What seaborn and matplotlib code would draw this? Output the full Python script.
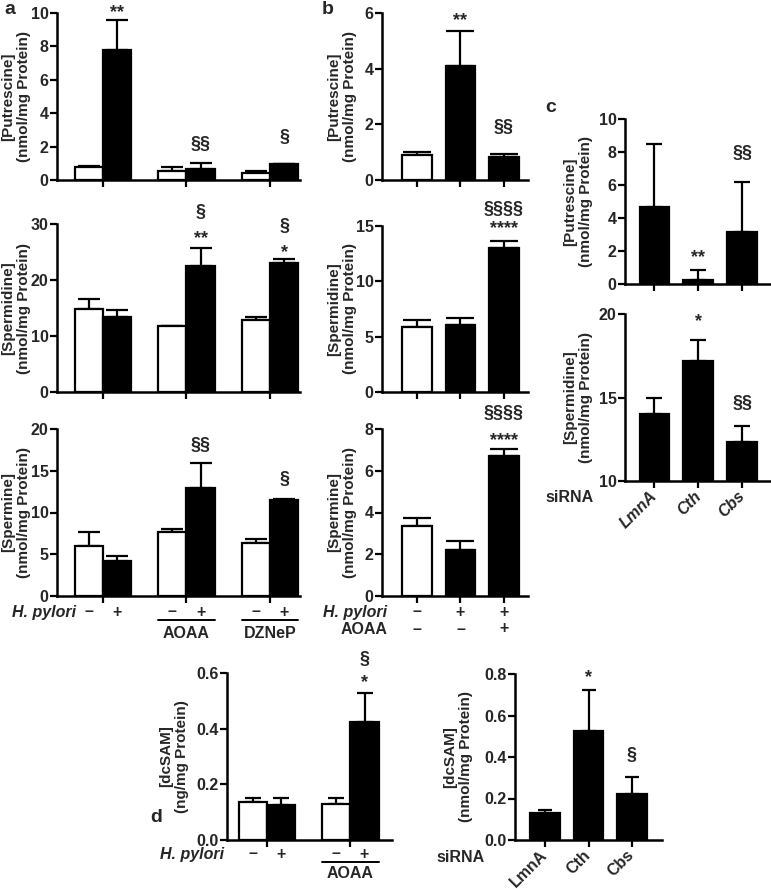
import numpy as np
import pandas as pd
import seaborn as sns
import matplotlib.pyplot as plt
import matplotlib.transforms as mtransforms

# --- dados ---
A_GROUPS = ["none", "AOAA", "DZNeP"]
A_PUT_NEG = [0.78, 0.55, 0.43]
A_PUT_NEG_ERR = [0.04, 0.23, 0.10]
A_PUT_POS = [7.8, 0.65, 0.93]
A_PUT_POS_ERR = [1.8, 0.37, 0.02]
A_SPD_NEG = [14.9, 11.7, 12.8]
A_SPD_NEG_ERR = [1.7, 0.1, 0.6]
A_SPD_POS = [13.4, 22.5, 23.0]
A_SPD_POS_ERR = [1.2, 3.3, 0.7]
A_SPM_NEG = [5.95, 7.7, 6.3]
A_SPM_NEG_ERR = [1.75, 0.3, 0.5]
A_SPM_POS = [4.2, 12.9, 11.5]
A_SPM_POS_ERR = [0.6, 3.0, 0.1]

B_CATS = ["ctrl", "hp", "hp_aoaa"]
B_COLORS = ["white", "black", "black"]
B_PUT = [0.9, 4.1, 0.84]
B_PUT_ERR = [0.12, 1.27, 0.1]
B_SPD = [5.9, 6.05, 13.0]
B_SPD_ERR = [0.6, 0.6, 0.6]
B_SPM = [3.35, 2.2, 6.7]
B_SPM_ERR = [0.37, 0.42, 0.32]
B_HP_ROW = ["–", "+", "+"]
B_AOAA_ROW = ["–", "–", "+"]

SI_CATS = ["LmnA", "Cth", "Cbs"]
C_PUT = [4.65, 0.25, 3.13]
C_PUT_ERR = [3.85, 0.6, 3.07]
C_SPD = [14.0, 17.2, 12.35]
C_SPD_ERR = [1.0, 1.25, 0.95]

D_GROUPS = ["none", "AOAA"]
D_NEG = [0.135, 0.13]
D_NEG_ERR = [0.017, 0.02]
D_POS = [0.126, 0.425]
D_POS_ERR = [0.026, 0.102]
D_SI = [0.128, 0.527, 0.22]
D_SI_ERR = [0.017, 0.196, 0.085]

W, H = 771, 889
FONT = ["Liberation Sans", "DejaVu Sans"]
FS = 11.5    # rótulos dos ticks
FS_LAB = 11  # rótulos do eixo y

sns.set_theme(style="ticks")
plt.rcParams['font.family'] = FONT
plt.rcParams['font.weight'] = 'bold'
plt.rcParams['axes.labelweight'] = 'bold'

fig = plt.figure(figsize=(W / 100, H / 100), dpi=100)


def px_axes(x0, y0, x1, y1):
    return fig.add_axes([x0 / W, 1 - y1 / H, (x1 - x0) / W, (y1 - y0) / H])


def style_axes(ax, xlim, ylim, yticks, ytlabels, ylabel, label_x_px, ax_x0, ax_x1):
    ax.set_xlim(*xlim)
    ax.set_ylim(*ylim)
    ax.set_yticks(yticks)
    ax.set_yticklabels(ytlabels, fontsize=FS, fontweight="bold")
    ax.set_xlabel("")
    ax.set_xticklabels([])
    ax.set_ylabel(ylabel, fontsize=FS_LAB, fontweight="bold", va="center", linespacing=1.2)
    ax.yaxis.set_label_coords((label_x_px - ax_x0) / (ax_x1 - ax_x0), 0.5)
    ax.tick_params(width=1.6, length=5, color="black", pad=1)
    for s in ["left", "bottom"]:
        ax.spines[s].set_linewidth(1.8)
        ax.spines[s].set_color("black")
    sns.despine(ax=ax)


def add_err(ax, bars, errs, cap):
    xs = [b.get_x() + b.get_width() / 2 for b in bars]
    ys = [b.get_height() for b in bars]
    ax.errorbar(xs, ys, yerr=[np.zeros(len(errs)), errs], fmt="none", ecolor="black",
                elinewidth=1.6, capsize=cap, capthick=1.6, zorder=1)
    return xs


def grouped(ax, groups, neg, neg_err, pos, pos_err, cap):
    df = pd.DataFrame({"group": groups * 2,
                       "hp": ["neg"] * len(groups) + ["pos"] * len(groups),
                       "value": neg + pos})
    sns.barplot(data=df, x="group", y="value", hue="hp", order=groups, hue_order=["neg", "pos"],
                palette=["white", "black"], saturation=1, width=0.68, edgecolor="black",
                linewidth=1.6, errorbar=None, legend=False, ax=ax, zorder=2)
    xn = add_err(ax, ax.containers[0], neg_err, cap)
    xp = add_err(ax, ax.containers[1], pos_err, cap)
    return xn, xp


def simple(ax, cats, vals, errs, colors, cap):
    df = pd.DataFrame({"cat": cats, "value": vals})
    sns.barplot(data=df, x="cat", y="value", hue="cat", order=cats, hue_order=cats,
                palette=colors, saturation=1, width=0.68, edgecolor="black",
                linewidth=1.6, errorbar=None, legend=False, ax=ax, zorder=2)
    bars = [c[0] for c in ax.containers]
    return add_err(ax, bars, errs, cap)


def marks(ax, xs, items):
    # items: (índice da barra, texto, y em dados)
    for i, txt, y in items:
        off = -4 if "*" in txt else 0
        ax.annotate(txt, (xs[i], y), xytext=(0, off), textcoords="offset points",
                    ha="center", va="center", fontsize=13, fontweight="bold",
                    annotation_clip=False)


def row(ax, xs, labels, y_px, fs=FS, **kw):
    tr = mtransforms.blended_transform_factory(ax.transData, fig.transFigure)
    for x, lab in zip(xs, labels):
        ax.text(x, 1 - y_px / H, lab, transform=tr, ha="center", va="center",
                fontsize=fs, fontweight="bold", **kw)


def fig_text(x_px, y_px, s, **kw):
    fig.text(x_px / W, 1 - y_px / H, s, fontweight="bold", **kw)


def underline(ax, bars_l, bars_r, i, y_px, label, ty_px, fs=FS):
    tr = mtransforms.blended_transform_factory(ax.transData, fig.transFigure)
    x0 = bars_l[i].get_x()
    x1 = bars_r[i].get_x() + bars_r[i].get_width()
    ax.plot([x0, x1], [1 - y_px / H] * 2, transform=tr, color="black", lw=1.4, clip_on=False)
    ax.text((x0 + x1) / 2, 1 - ty_px / H, label, transform=tr, ha="center", va="center",
            fontsize=fs, fontweight="bold")


def si_labels(ax, italic):
    ax.set_xticks(range(len(SI_CATS)))
    ax.set_xticklabels(SI_CATS, rotation=45, ha="right", va="center", rotation_mode="anchor",
                       fontsize=11.5, fontweight="bold",
                       style="italic" if italic else "normal")
    ax.tick_params(axis="x", pad=4)


# --- painel a ---
A_X = (57, 300)
a_xlim = (-0.55, 2.36)
ax = px_axes(A_X[0], 13, A_X[1], 180)
xn, xp = grouped(ax, A_GROUPS, A_PUT_NEG, A_PUT_NEG_ERR, A_PUT_POS, A_PUT_POS_ERR, 8)
style_axes(ax, a_xlim, (0, 10), [0, 2, 4, 6, 8, 10], ["0", "2", "4", "6", "8", "10"],
           "[Putrescine]\n(nmol/mg Protein)", 16, *A_X)
marks(ax, xp, [(0, "**", 10.35), (1, "§§", 2.1), (2, "§", 2.57)])

ax = px_axes(A_X[0], 224, A_X[1], 392)
xn, xp = grouped(ax, A_GROUPS, A_SPD_NEG, A_SPD_NEG_ERR, A_SPD_POS, A_SPD_POS_ERR, 8)
style_axes(ax, a_xlim, (0, 30), [0, 10, 20, 30], ["0", "10", "20", "30"],
           "[Spermidine]\n(nmol/mg Protein)", 16, *A_X)
marks(ax, xp, [(1, "§", 32.1), (1, "**", 28.4), (2, "§", 29.6), (2, "*", 25.9)])

ax = px_axes(A_X[0], 429, A_X[1], 596)
xn, xp = grouped(ax, A_GROUPS, A_SPM_NEG, A_SPM_NEG_ERR, A_SPM_POS, A_SPM_POS_ERR, 8)
style_axes(ax, a_xlim, (0, 20), [0, 5, 10, 15, 20], ["0", "5", "10", "15", "20"],
           "[Spermine]\n(nmol/mg Protein)", 16, *A_X)
marks(ax, xp, [(1, "§§", 18.0), (2, "§", 13.9)])
row(ax, xn, ["–"] * 3, 612)
row(ax, xp, ["+"] * 3, 612)
fig_text(76, 612, "H. pylori", ha="right", va="center", fontsize=FS, style="italic")
for i, g in [(1, "AOAA"), (2, "DZNeP")]:
    underline(ax, ax.containers[0], ax.containers[1], i, 620, g, 634)

# --- painel b ---
B_X = (382, 528)
b_xlim = (-0.8, 2.55)
ax = px_axes(B_X[0], 13, B_X[1], 180)
xs = simple(ax, B_CATS, B_PUT, B_PUT_ERR, B_COLORS, 10)
style_axes(ax, b_xlim, (0, 6), [0, 2, 4, 6], ["0", "2", "4", "6"],
           "[Putrescine]\n(nmol/mg Protein)", 342, *B_X)
marks(ax, xs, [(1, "**", 5.93), (2, "§§", 1.9)])

ax = px_axes(B_X[0], 226, B_X[1], 392)
xs = simple(ax, B_CATS, B_SPD, B_SPD_ERR, B_COLORS, 10)
style_axes(ax, b_xlim, (0, 15), [0, 5, 10, 15], ["0", "5", "10", "15"],
           "[Spermidine]\n(nmol/mg Protein)", 342, *B_X)
marks(ax, xs, [(2, "§§§§", 16.5), (2, "****", 15.3)])

ax = px_axes(B_X[0], 429, B_X[1], 596)
xs = simple(ax, B_CATS, B_SPM, B_SPM_ERR, B_COLORS, 10)
style_axes(ax, b_xlim, (0, 8), [0, 2, 4, 6, 8], ["0", "2", "4", "6", "8"],
           "[Spermine]\n(nmol/mg Protein)", 342, *B_X)
marks(ax, xs, [(2, "§§§§", 8.76), (2, "****", 7.7)])
row(ax, xs, B_HP_ROW, 612)
row(ax, xs, B_AOAA_ROW, 629)
fig_text(387, 612, "H. pylori", ha="right", va="center", fontsize=FS, style="italic")
fig_text(387, 629, "AOAA", ha="right", va="center", fontsize=FS)

# --- painel c ---
C_X = (625, 771)
c_xlim = (-0.67, 2.65)
ax = px_axes(C_X[0], 119, C_X[1], 284)
xs = simple(ax, SI_CATS, C_PUT, C_PUT_ERR, ["black"] * 3, 6)
style_axes(ax, c_xlim, (0, 10), [0, 2, 4, 6, 8, 10], ["0", "2", "4", "6", "8", "10"],
           "[Putrescine]\n(nmol/mg Protein)", 578, *C_X)
marks(ax, xs, [(1, "**", 1.94), (2, "§§", 7.9)])

ax = px_axes(C_X[0], 314, C_X[1], 481)
xs = simple(ax, SI_CATS, C_SPD, C_SPD_ERR, ["black"] * 3, 6)
style_axes(ax, c_xlim, (10, 20), [10, 15, 20], ["10", "15", "20"],
           "[Spermidine]\n(nmol/mg Protein)", 578, *C_X)
si_labels(ax, italic=True)
marks(ax, xs, [(1, "*", 19.9), (2, "§§", 14.67)])
fig_text(594, 497, "siRNA", ha="right", va="center", fontsize=FS)

# --- painel d ---
DL_X = (227, 392)
ax = px_axes(DL_X[0], 673, DL_X[1], 840)
xn, xp = grouped(ax, D_GROUPS, D_NEG, D_NEG_ERR, D_POS, D_POS_ERR, 6)
style_axes(ax, (-0.48, 1.5), (0, 0.6), [0, 0.2, 0.4, 0.6], ["0.0", "0.2", "0.4", "0.6"],
           "[dcSAM]\n(ng/mg Protein)", 174, *DL_X)
marks(ax, xp, [(1, "§", 0.647), (1, "*", 0.586)])
row(ax, xn, ["–"] * 2, 854, fs=11.5)
row(ax, xp, ["+"] * 2, 854, fs=11.5)
fig_text(224, 854, "H. pylori", ha="right", va="center", fontsize=11.5, style="italic")
underline(ax, ax.containers[0], ax.containers[1], 1, 862, "AOAA", 873, fs=11.5)

DR_X = (515, 662)
ax = px_axes(DR_X[0], 674, DR_X[1], 840)
xs = simple(ax, SI_CATS, D_SI, D_SI_ERR, ["black"] * 3, 5)
style_axes(ax, (-0.69, 2.69), (0, 0.8), [0, 0.2, 0.4, 0.6, 0.8],
           ["0.0", "0.2", "0.4", "0.6", "0.8"],
           "[dcSAM]\n(nmol/mg Protein)", 458, *DR_X)
si_labels(ax, italic=False)
marks(ax, xs, [(1, "*", 0.81), (2, "§", 0.405)])
fig_text(485, 857, "siRNA", ha="right", va="center", fontsize=FS)

# letras dos painéis
fig_text(4, 10, "a", ha="left", va="center", fontsize=14)
fig_text(322, 10, "b", ha="left", va="center", fontsize=14)
fig_text(545, 107, "c", ha="left", va="center", fontsize=14)
fig_text(150, 818, "d", ha="left", va="center", fontsize=14)

fig.savefig("out.png", dpi=100)
